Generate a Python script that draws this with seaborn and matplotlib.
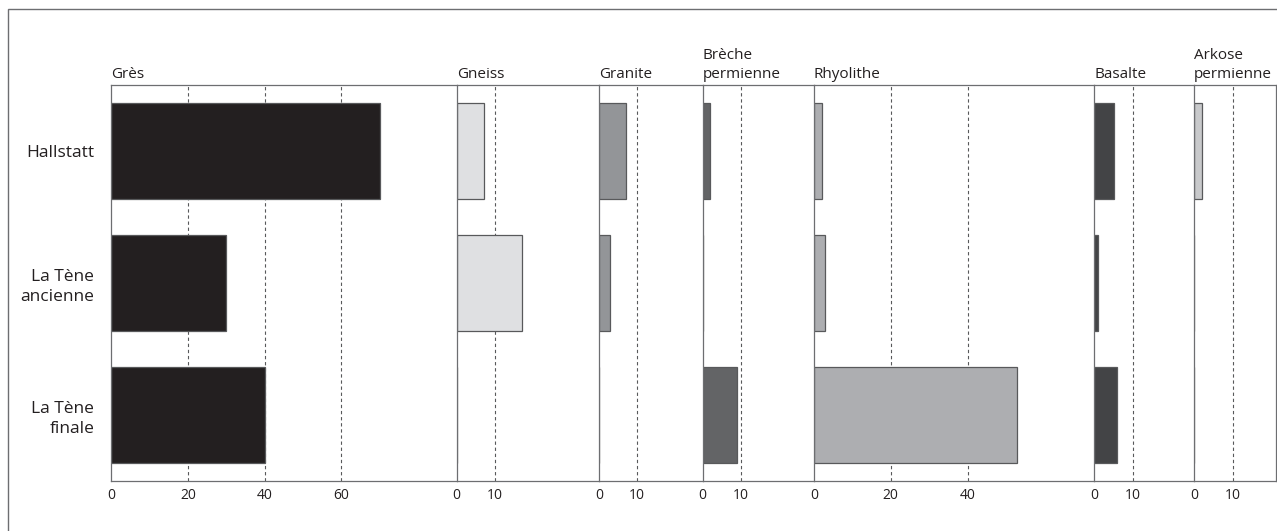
import matplotlib
matplotlib.use("Agg")
import matplotlib.pyplot as plt
from matplotlib.patches import Rectangle
import seaborn as sns

# Data (percentages per period)
periods = ["Hallstatt", "La Tène\nancienne", "La Tène\nfinale"]
rocks = ["Grès", "Gneiss", "Granite", "Brèche\npermienne", "Rhyolithe", "Basalte", "Arkose\npermienne"]
gres = [70, 30, 40]
gneiss = [7, 17, 0]
granite = [7, 3, 0]
breche = [2, 0, 9]
rhyolithe = [2, 3, 53]
basalte = [5, 1, 6]
arkose = [2, 0, 0]
values = [gres, gneiss, granite, breche, rhyolithe, basalte, arkose]

# axis extents and tick labels for each panel
xmax = [90, 37, 27, 29, 73, 26, 21.3]
ticks = [[0, 20, 40, 60], [0, 10], [0, 10], [0, 10], [0, 20, 40], [0, 10], [0, 10]]
colors = ["#231f20", "#dfe0e2", "#939598", "#636466", "#adaeb1", "#434446", "#c8c9cb"]

sns.set_theme(style="white")
plt.rcParams["font.family"] = ["Open Sans", "DejaVu Sans"]

spine_col = "#6d6e71"

fig, axes = plt.subplots(1, 7, figsize=(12.77, 5.31), dpi=100,
                         gridspec_kw={"width_ratios": xmax, "wspace": 0})
fig.subplots_adjust(left=111 / 1277, right=1276 / 1277, top=1 - 85 / 531, bottom=1 - 481 / 531, wspace=0)

for i, ax in enumerate(axes):
    sns.barplot(x=values[i], y=periods, ax=ax, color=colors[i], width=0.72,
                edgecolor="#58595b", linewidth=0.9, saturation=1, orient="h")
    ax.set_xlim(0, xmax[i])
    ax.set_xticks(ticks[i])
    ax.set_xticklabels([str(t) for t in ticks[i]], fontsize=10, color="#231f20")
    for t in ticks[i][1:]:
        ax.axvline(t, color="#58595b", lw=0.8, ls=(0, (3, 2.5)), zorder=0)
    ax.set_xlabel("")
    ax.set_ylabel("")
    ax.tick_params(axis="x", length=0, pad=5)
    ax.tick_params(axis="y", length=0, pad=12)
    ax.set_title(rocks[i], loc="left", fontsize=11, pad=5, color="#231f20",
                 linespacing=1.4)
    for s in ["left", "top", "bottom", "right"]:
        ax.spines[s].set_color(spine_col)
        ax.spines[s].set_linewidth(0.9)
    ax.spines["right"].set_visible(i == len(axes) - 1)
    if i == 0:
        ax.set_yticks(range(len(periods)))
        ax.set_yticklabels(periods, fontsize=12.5, color="#231f20", linespacing=1.35)
    else:
        ax.set_yticklabels([])

# outer frame of the figure panel
fig.patches.append(Rectangle((8 / 1277, -0.1), 1.2, 1 - 9 / 531 + 0.1,
                             transform=fig.transFigure, fill=False,
                             edgecolor=spine_col, lw=1.0))

fig.savefig("out.png", dpi=100)
